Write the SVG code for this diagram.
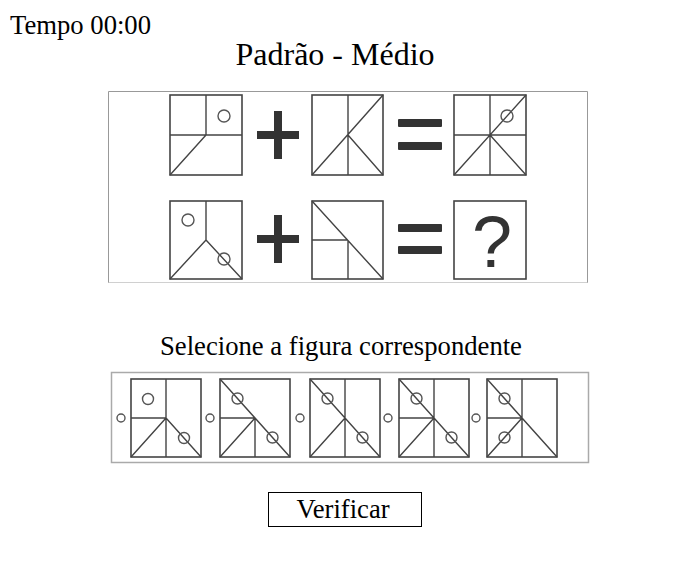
<svg xmlns="http://www.w3.org/2000/svg" width="696" height="564" viewBox="0 0 696 564">
<style>
.t{font-family:"Liberation Serif","Times New Roman",serif;fill:#000}
.sq{fill:#fff;stroke:#444;stroke-width:1.6}
.ln{fill:none;stroke:#444;stroke-width:1.4}
.c{fill:none;stroke:#555;stroke-width:1.4}
.sym{fill:#333}
.opt{fill:#fff;stroke:#444;stroke-width:1.6}
</style>
<rect width="696" height="564" fill="#fff"/>
<g id="timer"><text class="t" x="10" y="34" font-size="26.67">Tempo 00:00</text></g>
<g id="title"><text class="t" x="335" y="65" font-size="32" text-anchor="middle">Padrão - Médio</text></g>

<g id="puzzle">
  <path d="M108.5,283 V91.5 H587.5 V283" fill="none" stroke="#999" stroke-width="1"/>
  <path d="M108.5,282.5 H587.5" fill="none" stroke="#d0d0d0" stroke-width="1"/>
  <g id="p1">
    <rect class="sq" x="170" y="95" width="72" height="80"/>
    <path class="ln" d="M206,95 V135 M170,135 H242 M206,135 L170,175"/>
    <circle class="c" cx="224" cy="116" r="6"/>
  </g>
  <g id="plus1" class="sym"><rect x="257" y="131" width="42" height="8"/><rect x="274" y="111" width="8" height="48"/></g>
  <g id="p2">
    <rect class="sq" x="312" y="95" width="71" height="80"/>
    <path class="ln" d="M348,95 V175 M312,175 L383,95 M348,135 L383,175"/>
  </g>
  <g id="eq1" class="sym"><rect x="398" y="119" width="44" height="8" rx="1"/><rect x="398" y="142" width="44" height="8" rx="1"/></g>
  <g id="p3">
    <rect class="sq" x="454" y="95" width="72" height="80"/>
    <path class="ln" d="M490,95 V175 M454,135 H526 M454,175 L526,95 M490,135 L526,175"/>
    <circle class="c" cx="507" cy="116" r="6"/>
  </g>
  <g id="p4">
    <rect class="sq" x="170" y="201" width="72" height="78"/>
    <path class="ln" d="M206,201 V240 M206,240 L170,279 M206,240 L242,279"/>
    <circle class="c" cx="188" cy="220" r="6"/>
    <circle class="c" cx="224" cy="259" r="6"/>
  </g>
  <g id="plus2" class="sym"><rect x="257" y="235" width="42" height="8"/><rect x="274" y="215" width="8" height="48"/></g>
  <g id="p5">
    <rect class="sq" x="312" y="201" width="71" height="78"/>
    <path class="ln" d="M312,201 L383,279 M312,240 H348 M348,240 V279"/>
  </g>
  <g id="eq2" class="sym"><rect x="398" y="224" width="44" height="8" rx="1"/><rect x="398" y="246" width="44" height="8" rx="1"/></g>
  <g id="p6">
    <rect class="sq" x="454" y="201" width="72" height="78"/>
    <text x="492" y="267" font-family="Liberation Sans, Arial, sans-serif" font-size="72" text-anchor="middle" fill="#333">?</text>
  </g>
</g>

<g id="prompt"><text class="t" x="341" y="355" font-size="26.67" text-anchor="middle">Selecione a figura correspondente</text></g>

<g id="options">
  <rect x="111.5" y="372.5" width="477" height="90" fill="#fff" stroke="#aaa" stroke-width="1.5"/>
  <g id="opt1">
    <circle class="c" cx="121" cy="418" r="4"/>
    <rect class="opt" x="131" y="379" width="70" height="78"/>
    <path class="ln" d="M166,379 V457 M131,418 H166 M166,418 L131,457 M166,418 L201,457"/>
    <circle class="c" cx="148" cy="399" r="5.5"/>
    <circle class="c" cx="184" cy="438" r="5.5"/>
  </g>
  <g id="opt2">
    <circle class="c" cx="210" cy="418" r="4"/>
    <rect class="opt" x="220" y="379" width="70" height="78"/>
    <path class="ln" d="M220,379 L290,457 M255,418 V457 M220,418 H255 M255,418 L220,457"/>
    <circle class="c" cx="237.5" cy="398.5" r="5.5"/>
    <circle class="c" cx="272.5" cy="437.5" r="5.5"/>
  </g>
  <g id="opt3">
    <circle class="c" cx="300" cy="418" r="4"/>
    <rect class="opt" x="310" y="379" width="70" height="78"/>
    <path class="ln" d="M345,379 V457 M310,379 L380,457 M345,418 L310,457"/>
    <circle class="c" cx="327.5" cy="398.5" r="5.5"/>
    <circle class="c" cx="362.5" cy="437.5" r="5.5"/>
  </g>
  <g id="opt4">
    <circle class="c" cx="388" cy="418" r="4"/>
    <rect class="opt" x="399" y="379" width="70" height="78"/>
    <path class="ln" d="M434,379 V457 M399,418 H434 M399,379 L469,457 M434,418 L399,457"/>
    <circle class="c" cx="416.5" cy="398.5" r="5.5"/>
    <circle class="c" cx="451.5" cy="437.5" r="5.5"/>
  </g>
  <g id="opt5">
    <circle class="c" cx="476" cy="418" r="4"/>
    <rect class="opt" x="487" y="379" width="70" height="78"/>
    <path class="ln" d="M522,379 V457 M487,418 H522 M487,379 L557,457 M522,418 L487,457"/>
    <circle class="c" cx="504.5" cy="398.5" r="5.5"/>
    <circle class="c" cx="504.5" cy="437.5" r="5.5"/>
  </g>
</g>

<g id="verify">
  <rect x="268.5" y="492.5" width="153" height="34" fill="#fff" stroke="#000" stroke-width="1"/>
  <text class="t" x="343" y="518" font-size="26.67" text-anchor="middle">Verificar</text>
</g>
<g id="connectors"/>
</svg>
